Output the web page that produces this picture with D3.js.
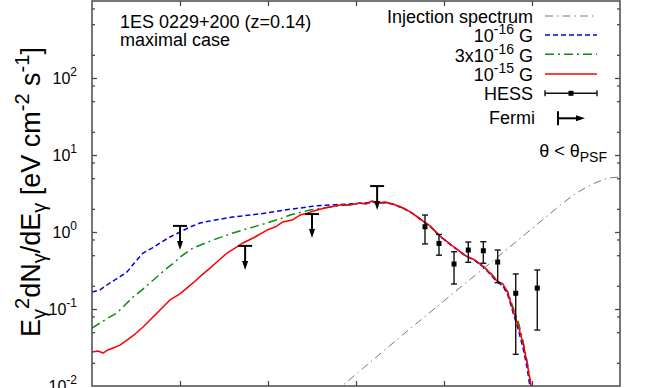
<!DOCTYPE html>
<html><head><meta charset="utf-8">
<script src="https://cdn.jsdelivr.net/npm/d3@7"></script>
<style>
body{margin:0;background:#fff}
svg{display:block}
text{font-family:"Liberation Sans",Arial,Helvetica,sans-serif;fill:#000}
</style>
</head><body>
<svg id="c" width="664" height="388"></svg>
<script>
// ---------- data (log10 of photon energy in eV, E^2 dN/dE in eV cm^-2 s^-1) ----------
const redLogE = [8.000,8.068,8.125,8.182,8.239,8.318,8.398,8.489,8.580,8.682,8.773,8.886,9.000,9.080,9.148,9.250,9.341,9.432,9.534,9.625,9.716,9.852,9.989,10.080,10.170,10.273,10.364,10.455,10.557,10.648,10.705,
  10.818,10.932,11.045,11.114,11.182,11.250,11.330,11.420,11.534,11.636,11.727,11.841,11.955,12.068,12.159,12.250,12.352,12.443,12.523,12.602,12.670,12.727,12.784,12.841,12.898,12.943,12.977,13.000];
const redF = [0.0277,0.0285,0.0268,0.0294,0.0312,0.0340,0.0395,0.0473,0.0583,0.0764,0.0971,0.131,0.157,0.188,0.218,0.277,0.340,0.420,0.533,0.619,0.720,0.861,1.06,1.16,1.35,1.43,1.66,1.77,1.93,2.05,2.11,
  2.24,2.24,2.38,2.31,2.53,2.38,2.45,2.31,2.05,1.77,1.48,1.20,0.887,0.698,0.583,0.488,0.433,0.361,0.294,0.231,0.211,0.161,0.097,0.0619,0.0361,0.0205,0.0120,0.00836];

const greenLogE = [8.000,8.091,8.182,8.284,8.375,8.466,8.568,8.659,8.750,8.852,8.943,9.000,9.148,9.261,9.375,9.602,9.795,9.989,10.136,10.250,10.477,10.705,
  10.818,10.932,11.045,11.114,11.182,11.250,11.330,11.420,11.534,11.636,11.727,11.841,11.955,12.068,12.159,12.250,12.352,12.443,12.523,12.602,12.670,12.727,12.784,12.841,12.875,12.910,12.950,12.985,13.005];
const greenF = [0.0566,0.0658,0.0764,0.0887,0.113,0.143,0.177,0.218,0.268,0.340,0.407,0.473,0.619,0.698,0.787,0.971,1.13,1.31,1.48,1.66,1.93,2.11,
  2.20,2.27,2.34,2.36,2.42,2.40,2.42,2.30,2.05,1.76,1.49,1.19,0.88,0.70,0.58,0.49,0.43,0.36,0.30,0.235,0.205,0.165,0.105,0.070,0.050,0.033,0.019,0.0105,0.0082];

const blueLogE = [8.000,8.091,8.205,8.295,8.398,8.489,8.580,8.682,8.773,8.886,9.000,9.114,9.227,9.398,9.602,9.795,9.989,10.193,10.364,10.534,10.705,
  10.818,10.932,11.045,11.114,11.182,11.250,11.330,11.420,11.534,11.636,11.727,11.841,11.955,12.068,12.159,12.250,12.352,12.443,12.523,12.602,12.670,12.727,12.784,12.841,12.898,12.943,12.966,12.988];
const blueF = [0.166,0.177,0.218,0.253,0.303,0.407,0.533,0.619,0.720,0.861,1.00,1.16,1.31,1.43,1.57,1.66,1.77,1.93,2.05,2.18,2.24,
  2.28,2.31,2.36,2.38,2.45,2.40,2.40,2.30,2.04,1.76,1.47,1.19,0.88,0.69,0.58,0.485,0.425,0.355,0.285,0.225,0.200,0.150,0.090,0.056,0.031,0.0175,0.0118,0.0082];

const injLogE = [10.761,11.500,12.068,12.636,13.091,13.352,13.489,13.602,13.716,13.830,13.920,14.000];
const injF = [0.00836,0.0432,0.148,0.502,1.35,2.38,3.12,3.72,4.33,4.88,5.10,5.18];

const hessLogE = [11.784,11.943,12.114,12.276,12.447,12.610,12.815,13.060];
const hessF  = [1.17,0.71,0.384,0.583,0.571,0.407,0.160,0.187];
const hessHi = [1.66,0.93,0.555,0.741,0.748,0.583,0.285,0.321];
const hessLo = [0.70,0.50,0.211,0.404,0.393,0.220,0.0258,0.0533];

const fermiLogE = [9.00,9.74,10.50,11.24];
const fermiUL   = [1.20,0.66,1.71,3.95];

const yMajor = [1e-2,1e-1,1e0,1e1,1e2,1e3];
const yLabelExp = ["-2","-1","0","1","2"];
const xMajor = [1e8,1e9,1e10,1e11,1e12,1e13,1e14];

const legendLabels = ["Injection spectrum","10|-16| G","3x10|-16| G","10|-15| G","HESS","Fermi"];

// ---------- layout ----------
const svg = d3.select("#c");
const L = 92, R = 620, T = 1, B = 386;
const x = d3.scaleLog().domain([1e8,1e14]).range([L,R]);
const y = d3.scaleLog().domain([1e-2,1e3]).range([B,T]);
const frameCol = "#4a4a4a";

svg.append("defs").append("clipPath").attr("id","clip")
  .append("rect").attr("x",L).attr("y",T).attr("width",R-L).attr("height",B-T);

const yMinor = [];
for (let k=-2;k<3;k++) [2,5,8].forEach(m=>yMinor.push(m*Math.pow(10,k)));

function styleAxis(g){ g.select(".domain").remove(); g.selectAll("line").attr("stroke",frameCol).attr("stroke-width",1.3); g.selectAll("text").remove(); }
svg.append("g").attr("transform",`translate(${L},0)`).call(d3.axisLeft(y).tickValues(yMajor.slice(1,-1)).tickSize(-5).tickFormat("")).call(styleAxis);
svg.append("g").attr("transform",`translate(${L},0)`).call(d3.axisLeft(y).tickValues(yMinor).tickSize(-3).tickFormat("")).call(styleAxis);
svg.append("g").attr("transform",`translate(${R},0)`).call(d3.axisRight(y).tickValues(yMajor.slice(1,-1)).tickSize(-5).tickFormat("")).call(styleAxis);
svg.append("g").attr("transform",`translate(${R},0)`).call(d3.axisRight(y).tickValues(yMinor).tickSize(-3).tickFormat("")).call(styleAxis);
svg.append("g").attr("transform",`translate(0,${T})`).call(d3.axisTop(x).tickValues(xMajor.slice(1,-1)).tickSize(-5).tickFormat("")).call(styleAxis);
svg.append("g").attr("transform",`translate(0,${B})`).call(d3.axisBottom(x).tickValues(xMajor.slice(1,-1)).tickSize(-5).tickFormat("")).call(styleAxis);

// y tick labels
yMajor.slice(0,5).forEach((v,i)=>{
  const t = svg.append("text").attr("x",77).attr("y",y(v)+6).attr("text-anchor","end").style("font-size","16px");
  t.append("tspan").text("10");
  t.append("tspan").attr("dy",-8).style("font-size","12px").text(yLabelExp[i]);
});

// y axis title
const yt = svg.append("text").attr("transform","translate(40,192) rotate(-90)").attr("text-anchor","middle").style("font-size","27px");
yt.append("tspan").text("E");
yt.append("tspan").attr("dy",6).style("font-size","20px").text("γ");
yt.append("tspan").attr("dy",-17).style("font-size","20px").text("2");
yt.append("tspan").attr("dy",11).text("dN");
yt.append("tspan").attr("dy",6).style("font-size","20px").text("γ");
yt.append("tspan").attr("dy",-6).text("/dE");
yt.append("tspan").attr("dy",6).style("font-size","20px").text("γ");
yt.append("tspan").attr("dy",-6).text(" [eV cm");
yt.append("tspan").attr("dy",-11).style("font-size","20px").text("-2");
yt.append("tspan").attr("dy",11).text(" s");
yt.append("tspan").attr("dy",-11).style("font-size","20px").text("-1");
yt.append("tspan").attr("dy",11).text("]");

// ---------- curves ----------
const line = d3.line().x(d=>x(Math.pow(10,d[0]))).y(d=>y(d[1]));
const plot = svg.append("g").attr("clip-path","url(#clip)");
const series = [
  {e:injLogE, f:injF, color:"#777", w:1, dash:"8,4,1.5,4"},
  {e:greenLogE, f:greenF, color:"#118811", w:1.5, dash:"9,4,2,4"},
  {e:blueLogE, f:blueF, color:"#0000ee", w:1.5, dash:"5,3"},
  {e:redLogE, f:redF, color:"#ff0000", w:1.5, dash:null}
];
series.forEach(s=>{
  plot.append("path").datum(s.e.map((v,i)=>[v,s.f[i]]))
    .attr("d",line).attr("fill","none").attr("stroke",s.color).attr("stroke-width",s.w)
    .attr("stroke-dasharray",s.dash).attr("stroke-linejoin","round");
});

// HESS points
hessLogE.forEach((le,i)=>{
  const cx = x(Math.pow(10,le));
  const g = plot.append("g").attr("stroke","#111").attr("stroke-width",1.4);
  g.append("line").attr("x1",cx).attr("x2",cx).attr("y1",y(hessHi[i])).attr("y2",y(hessLo[i]));
  g.append("line").attr("x1",cx-3).attr("x2",cx+3).attr("y1",y(hessHi[i])).attr("y2",y(hessHi[i]));
  g.append("line").attr("x1",cx-3).attr("x2",cx+3).attr("y1",y(hessLo[i])).attr("y2",y(hessLo[i]));
  plot.append("rect").attr("x",cx-2.5).attr("y",y(hessF[i])-2.5).attr("width",5).attr("height",5).attr("fill","#000");
});

// Fermi upper limits
function arrowDown(g,cx,cy){
  g.append("line").attr("x1",cx-7).attr("x2",cx+7).attr("y1",cy).attr("y2",cy).attr("stroke","#000").attr("stroke-width",2);
  g.append("line").attr("x1",cx).attr("x2",cx).attr("y1",cy).attr("y2",cy+17).attr("stroke","#000").attr("stroke-width",2);
  g.append("path").attr("d",`M${cx-3},${cy+15}L${cx+3},${cy+15}L${cx},${cy+24}Z`).attr("fill","#000");
}
fermiLogE.forEach((le,i)=>arrowDown(plot,x(Math.pow(10,le)),y(fermiUL[i])));

// frame
svg.append("rect").attr("x",L).attr("y",T).attr("width",R-L).attr("height",B-T)
  .attr("fill","none").attr("stroke",frameCol).attr("stroke-width",1.5);

// ---------- annotations ----------
svg.append("text").attr("x",120).attr("y",28).style("font-size","18px").text("1ES 0229+200 (z=0.14)");
svg.append("text").attr("x",120).attr("y",46).style("font-size","18px").text("maximal case");
const th = svg.append("text").attr("x",607).attr("y",157).attr("text-anchor","end").style("font-size","18px");
th.append("tspan").text("θ < θ");
th.append("tspan").attr("dy",5).style("font-size","14px").text("PSF");

// ---------- legend ----------
const legY = [16,35,54.3,74,93.3,118.3];
const legBase = [23,42,62,81,99.5,124];
const lx1 = 545, lx2 = 597;
legendLabels.forEach((lab,i)=>{
  const t = svg.append("text").attr("x",i===5?535:533).attr("y",legBase[i]).attr("text-anchor","end").style("font-size","18px");
  const parts = lab.split("|");
  t.append("tspan").text(parts[0]);
  if (parts.length>1){
    t.append("tspan").attr("dy",-8).style("font-size","14px").text(parts[1]);
    t.append("tspan").attr("dy",8).text(parts[2]);
  }
  if (i<4){
    const s = series[[0,2,1,3][i]];
    svg.append("line").attr("x1",lx1).attr("x2",lx2).attr("y1",legY[i]).attr("y2",legY[i])
      .attr("stroke",s.color).attr("stroke-width",s.w).attr("stroke-dasharray",s.dash);
  } else if (i===4){
    const g = svg.append("g").attr("stroke","#111").attr("stroke-width",1.4);
    g.append("line").attr("x1",lx1).attr("x2",lx2).attr("y1",legY[i]).attr("y2",legY[i]);
    g.append("line").attr("x1",lx1).attr("x2",lx1).attr("y1",legY[i]-3).attr("y2",legY[i]+3);
    g.append("line").attr("x1",lx2).attr("x2",lx2).attr("y1",legY[i]-3).attr("y2",legY[i]+3);
    svg.append("rect").attr("x",571-2.5).attr("y",legY[i]-2.5).attr("width",5).attr("height",5).attr("fill","#000");
  } else {
    const cy = legY[i];
    svg.append("line").attr("x1",558).attr("x2",558).attr("y1",cy-7).attr("y2",cy+7).attr("stroke","#000").attr("stroke-width",2);
    svg.append("line").attr("x1",558).attr("x2",578).attr("y1",cy).attr("y2",cy).attr("stroke","#000").attr("stroke-width",2);
    svg.append("path").attr("d",`M576,${cy-3}L576,${cy+3}L585,${cy}Z`).attr("fill","#000");
  }
});
</script>
</body></html>
